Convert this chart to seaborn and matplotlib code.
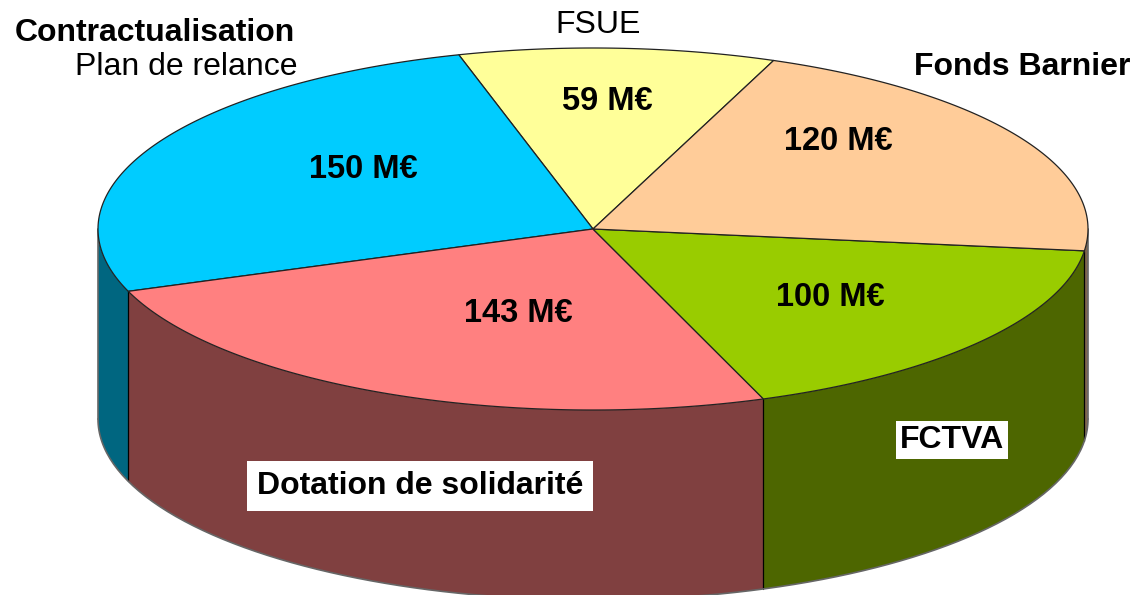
import numpy as np
import matplotlib
matplotlib.use("Agg")
import matplotlib.pyplot as plt
from matplotlib.patches import Polygon
import seaborn as sns

# slices, counter-clockwise starting from FSUE
names = ["FSUE", "Contractualisation", "Dotation de solidarité", "FCTVA", "Fonds Barnier"]
amounts = [59, 150, 143, 100, 120]
amount_labels = ["59 M€", "150 M€", "143 M€", "100 M€", "120 M€"]
top_colors = ["#FFFF99", "#00CCFF", "#FF8080", "#99CC00", "#FFCC99"]

sns.set_theme(style="white")
plt.rcParams['font.family'] = ['Liberation Sans', 'DejaVu Sans']
plt.rcParams['text.color'] = 'black'

fig = plt.figure(figsize=(11.38, 5.95), dpi=100)
ax = fig.add_axes([0, 0, 1, 1])
ax.set_xlim(0, 1138)
ax.set_ylim(595, 0)
ax.axis('off')

# ellipse geometry (pixels)
cx, cy, a, b, depth = 593, 229, 495, 181, 190
start = 68.6


def pt(t_deg, dz=0):
    t = np.radians(t_deg)
    return cx + a * np.cos(t), cy - b * np.sin(t) + dz


fracs = np.array(amounts) / sum(amounts)
edges = start + 360 * np.concatenate([[0], np.cumsum(fracs)])
pal = sns.color_palette(top_colors)
side_colors = [tuple(np.array(c) * 0.5) for c in pal]

# side walls, only the front half is visible
for i in range(len(amounts)):
    t1, t2 = edges[i], edges[i + 1]
    for off in (0, 360):
        lo, hi = max(t1, 180 + off), min(t2, 360 + off)
        if hi <= lo:
            continue
        ts = np.linspace(lo, hi, 120)
        x, y = pt(ts)
        verts = np.column_stack([np.r_[x, x[::-1]], np.r_[y, (y + depth)[::-1]]])
        ax.add_patch(Polygon(verts, closed=True, fc=side_colors[i], ec='none', zorder=1))

# seams between slices on the wall
for e in edges:
    m = e % 360
    if 180 < m < 360:
        x0, y0 = pt(m)
        ax.plot([x0, x0], [y0, y0 + depth], color='black', lw=0.9, zorder=2)

# outer outline of the wall
ts = np.linspace(180, 360, 200)
x, y = pt(ts, depth)
ax.plot(x, y, color='#666666', lw=1.2, zorder=2)
for t in (180, 360):
    x0, y0 = pt(t)
    ax.plot([x0, x0], [y0, y0 + depth], color='#666666', lw=1.2, zorder=2)

# top face
for i in range(len(amounts)):
    ts = np.linspace(edges[i], edges[i + 1], 150)
    x, y = pt(ts)
    verts = np.column_stack([np.r_[cx, x], np.r_[cy, y]])
    ax.add_patch(Polygon(verts, closed=True, fc=pal[i], ec='#222222', lw=0.9, zorder=3))

# amount labels on the top face
label_pos = [(607, 102), (363, 170), (518, 313), (830, 298), (838, 141)]
for (px, py), txt in zip(label_pos, amount_labels):
    ax.text(px, py, txt, ha='center', va='center', fontsize=23.5, fontweight='bold',
            color='black', zorder=5)

# category labels
ax.text(15, 33, names[1], ha='left', va='center', fontsize=23, fontweight='bold', zorder=5)
ax.text(298, 67, "Plan de relance", ha='right', va='center', fontsize=23, zorder=5)
ax.text(598, 25, names[0], ha='center', va='center', fontsize=23, zorder=5)
ax.text(1130, 67, names[4], ha='right', va='center', fontsize=23, fontweight='bold', zorder=5)
ax.text(952, 440, names[3], ha='center', va='center', fontsize=23, fontweight='bold', zorder=5,
        bbox=dict(boxstyle='square,pad=0.12', fc='white', ec='none'))
ax.text(420, 486, names[2], ha='center', va='center', fontsize=23, fontweight='bold', zorder=5,
        bbox=dict(boxstyle='square,pad=0.32', fc='white', ec='none'))

fig.savefig("out.png", dpi=100, facecolor='white')
